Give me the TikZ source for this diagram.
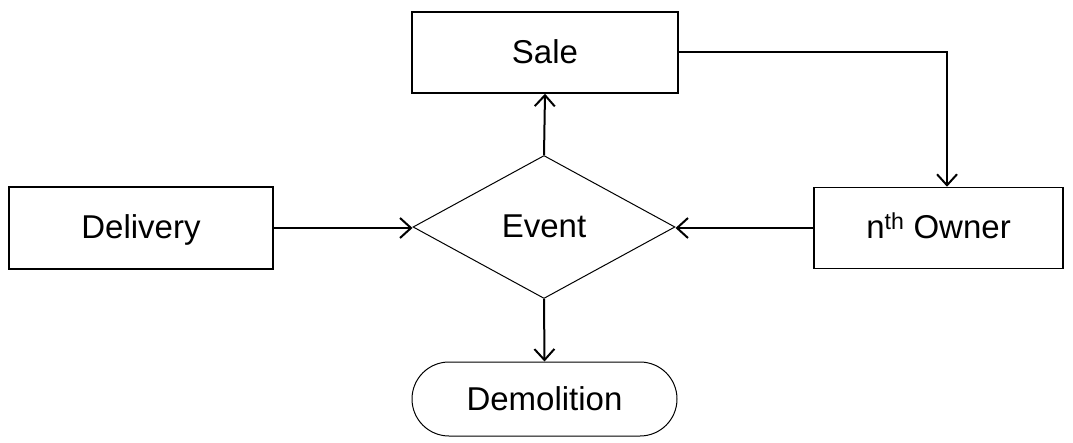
\documentclass[tikz,border=0pt]{standalone}
\usepackage{fontspec}
\setmainfont{Liberation Sans}
\usetikzlibrary{shapes.geometric,shapes.misc,arrows.meta}
\begin{document}
\begin{tikzpicture}[x=1pt,y=-1pt,
  every node/.style={font=\fontsize{33}{40}\selectfont, inner sep=0pt, text height=28pt, text depth=6pt},
  boxnode/.style={draw, line width=1.5pt, rectangle},
  decision/.style={draw, line width=1pt, diamond},
  terminal/.style={draw, line width=1pt, rounded rectangle},
  conn/.style={line width=2pt, -{Straight Barb[length=11pt,width=20pt,line width=2pt]}}]
\useasboundingbox (0,0) rectangle (1073,443);
\node[boxnode, minimum width=266pt, minimum height=81pt] (sale) at (545,52.5) {Sale};
\node[boxnode, minimum width=264pt, minimum height=82pt] (delivery) at (141,228) {Delivery};
\node[boxnode, minimum width=249pt, minimum height=81pt] (owner) at (938.5,228) {n\textsuperscript{th} Owner};
\node[decision, minimum width=262pt, minimum height=143pt] (event) at (544,227) {Event};
\node[terminal, minimum width=265pt, minimum height=74pt] (demo) at (544.5,399) {Demolition};
\draw[conn] (event.north) -- (sale.south);
\draw[conn] (event.south) -- (demo.north);
\draw[conn] (delivery.east) -- (delivery.east -| event.west);
\draw[conn] (owner.west) -- (owner.west -| event.east);
\draw[conn] (sale.east) -| ([xshift=8.5pt]owner.north);
\end{tikzpicture}
\end{document}
